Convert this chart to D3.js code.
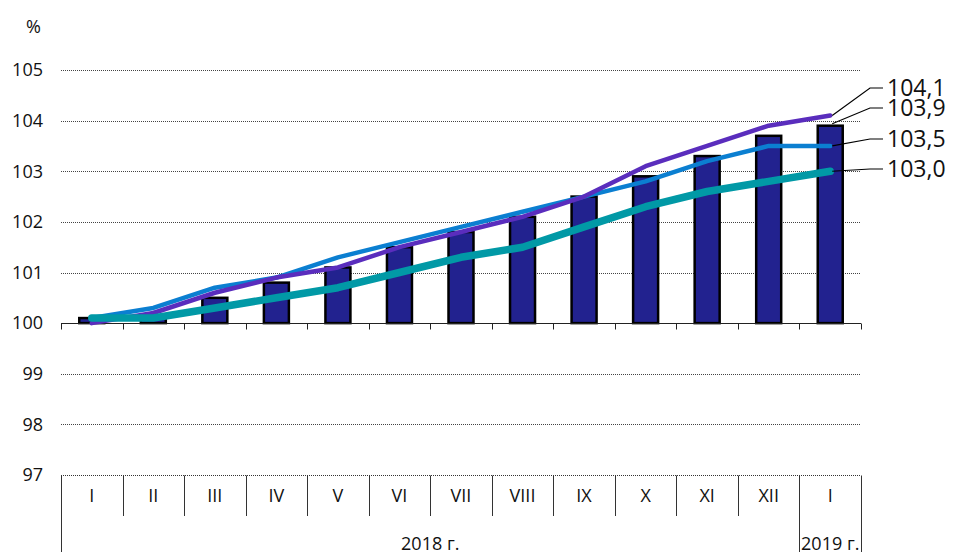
<!DOCTYPE html>
<head>
  <meta charset="utf-8">
  <script src="https://d3js.org/d3.v7.min.js"></script>
  <style>
    body { margin: 0; background: #fff; }
    svg { display: block; }
    svg text { font-family: "Open Sans", "Noto Sans", sans-serif; }
    .tick-label { font-size: 18px; fill: #111; }
    .grid line { stroke: #444; stroke-width: 1; stroke-dasharray: 1,1; }
    .bar { fill: #22228f; stroke: #000; stroke-width: 2.5; }
    .end-label { font-size: 23px; fill: #111; }
    .leader { stroke: #000; stroke-width: 1.2; fill: none; }
    .table line { stroke: #333; stroke-width: 1; }
  </style>
</head>
<body>
  <script>
    // data
    var months = ["I", "II", "III", "IV", "V", "VI", "VII", "VIII", "IX", "X", "XI", "XII", "I"];
    var years = [
      { label: "2018 г.", from: 0, to: 11 },
      { label: "2019 г.", from: 12, to: 12 }
    ];
    var barValues = [100.1, 100.1, 100.5, 100.8, 101.1, 101.5, 101.8, 102.1, 102.5, 102.9, 103.3, 103.7, 103.9];
    var purpleValues = [100.0, 100.2, 100.6, 100.9, 101.1, 101.5, 101.8, 102.1, 102.5, 103.1, 103.5, 103.9, 104.1];
    var blueValues = [100.1, 100.3, 100.7, 100.9, 101.3, 101.6, 101.9, 102.2, 102.5, 102.8, 103.2, 103.5, 103.5];
    var tealValues = [100.1, 100.1, 100.3, 100.5, 100.7, 101.0, 101.3, 101.5, 101.9, 102.3, 102.6, 102.8, 103.0];
    var yTicks = [97, 98, 99, 100, 101, 102, 103, 104, 105];

    var series = [
      { values: blueValues, color: "#0b7fd1", width: 4.5 },
      { values: purpleValues, color: "#5a2dbd", width: 4.5 },
      { values: tealValues, color: "#0199a6", width: 7.5 }
    ];

    var W = 953, H = 552;
    var plotLeft = 61, plotRight = 861, plotTop = 70, plotBottom = 475;

    var svg = d3.select("body").append("svg")
        .attr("width", W)
        .attr("height", H);

    var x = d3.scaleBand()
        .domain(d3.range(months.length))
        .range([plotLeft, plotRight]);

    var y = d3.scaleLinear()
        .domain([97, 105])
        .range([plotBottom, plotTop]);

    var cx = function(i) { return x(i) + x.bandwidth() / 2; };
    var edge = function(i) { return Math.round(plotLeft + i * x.step()) + 0.5; };

    // grid
    svg.append("g")
        .attr("class", "grid")
      .selectAll("line")
        .data(yTicks.filter(function(d) { return d !== 100; }))
      .enter().append("line")
        .attr("x1", plotLeft)
        .attr("x2", plotRight)
        .attr("y1", function(d) { return Math.round(y(d)) + 0.5; })
        .attr("y2", function(d) { return Math.round(y(d)) + 0.5; });

    // y labels
    svg.append("g")
      .selectAll("text")
        .data(yTicks)
      .enter().append("text")
        .attr("class", "tick-label")
        .attr("x", 43)
        .attr("y", function(d) { return y(d); })
        .attr("dy", "0.35em")
        .attr("text-anchor", "end")
        .text(function(d) { return d; });

    svg.append("text")
        .attr("class", "tick-label")
        .attr("x", 41)
        .attr("y", 27)
        .attr("dy", "0.35em")
        .attr("text-anchor", "end")
        .text("%");

    // bars
    var bw = 25;
    svg.selectAll(".bar")
        .data(barValues)
      .enter().append("rect")
        .attr("class", "bar")
        .attr("x", function(d, i) { return cx(i) - bw / 2; })
        .attr("y", function(d) { return y(d); })
        .attr("width", bw)
        .attr("height", function(d) { return y(100) - y(d); });

    // axis at 100
    var base = Math.round(y(100)) + 0.5;
    svg.append("line")
        .attr("x1", plotLeft).attr("x2", plotRight)
        .attr("y1", base).attr("y2", base)
        .attr("stroke", "#222").attr("stroke-width", 1);

    svg.append("g")
      .selectAll("line")
        .data(d3.range(months.length + 1))
      .enter().append("line")
        .attr("x1", edge)
        .attr("x2", edge)
        .attr("y1", base)
        .attr("y2", base + 6)
        .attr("stroke", "#222");

    // lines
    var line = d3.line()
        .x(function(d, i) { return cx(i); })
        .y(function(d) { return y(d); });

    svg.append("g")
      .selectAll("path")
        .data(series)
      .enter().append("path")
        .attr("d", function(s) { return line(s.values); })
        .attr("fill", "none")
        .attr("stroke", function(s) { return s.color; })
        .attr("stroke-width", function(s) { return s.width; })
        .attr("stroke-linejoin", "round")
        .attr("stroke-linecap", "round");

    // end labels
    var last = months.length - 1;
    var ends = [
      { value: purpleValues[last], labelY: 88 },
      { value: barValues[last], labelY: 108, onBar: true },
      { value: blueValues[last], labelY: 139 },
      { value: tealValues[last], labelY: 169 }
    ];

    ends.forEach(function(e) {
      var px = cx(last) + 2;
      var py = e.onBar ? y(e.value) - 2 : y(e.value);
      svg.append("path")
          .attr("class", "leader")
          .attr("d", "M" + px + "," + py + "L" + 870 + "," + e.labelY + "H" + 883);
      svg.append("text")
          .attr("class", "end-label")
          .attr("x", 887)
          .attr("y", e.labelY)
          .attr("dy", "0.35em")
          .text(d3.format(".1f")(e.value).replace(".", ","));
    });

    // category table
    var t = svg.append("g").attr("class", "table");
    var rowMid = 516;
    var tb = Math.round(y(97)) + 0.5;

    t.append("line")
        .attr("x1", plotLeft).attr("x2", plotRight)
        .attr("y1", tb).attr("y2", tb)
        .attr("stroke-dasharray", "1,1");

    t.selectAll(".sep")
        .data(d3.range(months.length + 1))
      .enter().append("line")
        .attr("x1", edge)
        .attr("x2", edge)
        .attr("y1", tb)
        .attr("y2", function(i) {
          var full = years.some(function(yr) { return i === yr.from || i === yr.to + 1; });
          return full ? H : rowMid;
        });

    t.selectAll(".month")
        .data(months)
      .enter().append("text")
        .attr("class", "tick-label")
        .attr("x", function(d, i) { return cx(i); })
        .attr("y", 496)
        .attr("dy", "0.35em")
        .attr("text-anchor", "middle")
        .text(function(d) { return d; });

    t.selectAll(".year")
        .data(years)
      .enter().append("text")
        .attr("class", "tick-label")
        .attr("x", function(d) { return (x(d.from) + x(d.to) + x.bandwidth()) / 2; })
        .attr("y", 544)
        .attr("dy", "0.35em")
        .attr("text-anchor", "middle")
        .text(function(d) { return d.label; });
  </script>
</body>
